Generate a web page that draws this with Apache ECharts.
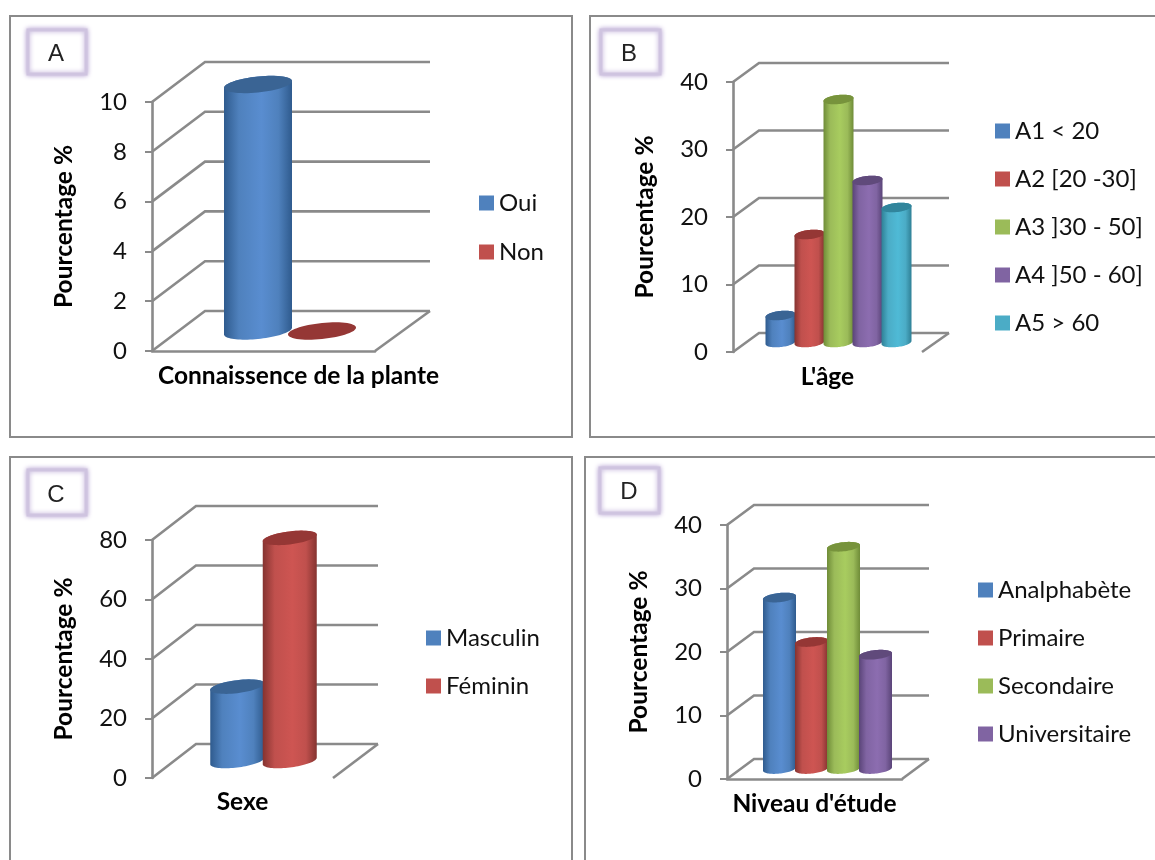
<!DOCTYPE html>
<html>
<head>
<meta charset="utf-8">
<style>html,body{margin:0;padding:0;background:#fff}#c{width:1155px;height:860px}</style>
<script src="https://cdn.jsdelivr.net/npm/echarts@6/dist/echarts.min.js"></script>
</head>
<body>
<div id="c"></div>
<script>
// ---- data ----
var categoryA = ['Connaissence de la plante'];
var namesA = ['Oui', 'Non'];
var valuesA = [9.9, 0];
var ticksA = [0, 2, 4, 6, 8, 10];

var categoryB = ["L'âge"];
var namesB = ['A1 < 20', 'A2 [20 -30]', 'A3 ]30 - 50]', 'A4 ]50 - 60]', 'A5 > 60'];
var valuesB = [4, 16, 36, 24, 20];
var ticksB = [0, 10, 20, 30, 40];

var categoryC = ['Sexe'];
var namesC = ['Masculin', 'Féminin'];
var valuesC = [25, 75];
var ticksC = [0, 20, 40, 60, 80];

var categoryD = ["Niveau d'étude"];
var namesD = ['Analphabète', 'Primaire', 'Secondaire', 'Universitaire'];
var valuesD = [27, 20, 35, 18];
var ticksD = [0, 10, 20, 30, 40];

var yTitle = 'Pourcentage %';

// ---- styles ----
var FONT = 'Lato';
var GRAY = '#8a8a8a';
var palette = [
  {base:'#4F81BD', top:'#3A6494', edge:'#2F5B8E', mid:'#598DD0'},
  {base:'#C0504D', top:'#953735', edge:'#853330', mid:'#CE5552'},
  {base:'#9BBB59', top:'#77933C', edge:'#6F8C38', mid:'#A8CC5F'},
  {base:'#8064A2', top:'#604A7B', edge:'#5A4478', mid:'#8C6DB0'},
  {base:'#4BACC6', top:'#31859C', edge:'#2F8096', mid:'#4FBAD6'}
];

var panels = [
  {cat:categoryA, names:namesA, values:valuesA, ticks:ticksA, letter:'A',
   x:152, y0:351, yTop:102, xR:375, dx:53, dy:40, wallR:430, front:true,
   barW:68, step:64, cx:290, ry:8, tilt:0.1, labelShift:35, labelMargin:13,
   legX:479, legY:190, legGap:49,
   frame:[10,16,562,421], box:[28,30,58,44], lt:[56,54]},
  {cat:categoryB, names:namesB, values:valuesB, ticks:ticksB, letter:'B',
   x:733, y0:352, yTop:82, xR:922, dx:26, dy:19, wallR:949, front:false,
   barW:30, step:29, cx:838.5, ry:4.6, tilt:0.1, labelShift:0, labelMargin:13,
   legX:995, legY:118, legGap:48,
   frame:[590,16,600,421], box:[601,30,59,44], lt:[629,54]},
  {cat:categoryC, names:namesC, values:valuesC, ticks:ticksC, letter:'C',
   x:152, y0:778, yTop:540, xR:333, dx:44, dy:34, wallR:378, front:false,
   barW:54, step:52.5, cx:263.5, ry:6.5, tilt:0.12, labelShift:0, labelMargin:12,
   legX:426, legY:625, legGap:48,
   frame:[10,457,562,440], box:[28,470,58,45], lt:[56,495]},
  {cat:categoryD, names:namesD, values:valuesD, ticks:ticksD, letter:'D',
   x:727, y0:779, yTop:525, xR:902, dx:27, dy:20, wallR:929, front:true,
   barW:33, step:32, cx:827.5, ry:4.6, tilt:0.1, labelShift:0, labelMargin:13,
   legX:978, legY:577, legGap:48,
   frame:[585,457,600,440], box:[600,468,59,45], lt:[629,492]}
];

function cylinderItem(p, idx) {
  var offset = (idx - (p.values.length - 1) / 2) * p.step;
  var col = palette[idx];
  return function (params, api) {
    var base = api.coord([0, 0]);
    var top = api.coord([0, api.value(1)]);
    var cx = p.cx + offset;
    var rx = p.barW / 2;
    var yb = base[1] - p.dy / 2;
    var yt = top[1] - p.dy / 2;
    var sh = p.tilt * rx;
    var rim = function (yc, from, to, n) {
      var pts = [];
      for (var i = 0; i <= n; i++) {
        var t = from + (to - from) * i / n;
        pts.push([cx + rx * Math.cos(t), yc + p.ry * Math.sin(t) - sh * Math.cos(t)]);
      }
      return pts;
    };
    var body = rim(yb, 0, Math.PI, 40).concat(rim(yt, Math.PI, 2 * Math.PI, 40));
    var children = [];
    if (api.value(1) > 0) {
      children.push({
        type: 'polygon', shape: {points: body},
        style: {fill: new echarts.graphic.LinearGradient(0, 0, 1, 0, [
          {offset: 0, color: col.edge},
          {offset: 0.22, color: col.base},
          {offset: 0.55, color: col.mid},
          {offset: 0.8, color: col.base},
          {offset: 1, color: col.edge}
        ])}
      });
    }
    children.push({
      type: 'polygon', shape: {points: rim(yt, 0, 2 * Math.PI, 60)},
      style: {fill: col.top}
    });
    return {type: 'group', children: children};
  };
}

function wallItem(p) {
  return function (params, api) {
    var pt = api.coord([0, api.value(1)]);
    var left = params.coordSys.x;
    return {
      type: 'polyline',
      shape: {points: [[left, pt[1]], [left + p.dx, pt[1] - p.dy], [p.wallR, pt[1] - p.dy]]},
      style: {fill: 'none', stroke: GRAY, lineWidth: 2.6}
    };
  };
}

function floorItem(p) {
  return function (params, api) {
    var pt = api.coord([0, 0]);
    return {
      type: 'line',
      shape: {x1: p.xR, y1: pt[1], x2: p.wallR, y2: pt[1] - p.dy},
      style: {stroke: GRAY, lineWidth: 2.6}
    };
  };
}

var grids = [], xAxes = [], yAxes = [], series = [], legends = [], graphics = [];

panels.forEach(function (p, k) {
  grids.push({left: p.x, top: p.yTop, width: p.xR - p.x, height: p.y0 - p.yTop});
  xAxes.push({
    type: 'category', gridIndex: k, data: p.cat, boundaryGap: true,
    axisTick: {show: false},
    axisLine: {show: p.front, lineStyle: {color: GRAY, width: 2.6}},
    axisLabel: {
      interval: 0, margin: p.labelMargin, color: '#000', fontFamily: FONT,
      fontWeight: 'bold', fontSize: 24.5,
      padding: [0, 0, 0, p.labelShift * 2]
    },
    splitLine: {show: false}
  });
  yAxes.push({
    type: 'value', gridIndex: k, min: 0, max: p.ticks[p.ticks.length - 1],
    interval: p.ticks[1] - p.ticks[0],
    name: yTitle, nameLocation: 'middle', nameRotate: 90, nameGap: 75,
    nameTextStyle: {color: '#000', fontFamily: FONT, fontWeight: 'bold', fontSize: 24.5},
    axisLine: {show: true, lineStyle: {color: GRAY, width: 2.6}},
    axisTick: {show: true, length: 7, lineStyle: {color: GRAY, width: 2}},
    axisLabel: {margin: 25, color: '#111', fontFamily: FONT, fontSize: 24, padding: [8, 0, 0, 0]},
    splitLine: {show: false}
  });
  series.push({
    type: 'custom', xAxisIndex: k, yAxisIndex: k, silent: true, clip: false, z: 1,
    data: p.ticks.map(function (v) { return [0, v]; }),
    renderItem: wallItem(p)
  });
  series.push({
    type: 'custom', xAxisIndex: k, yAxisIndex: k, silent: true, clip: false, z: 1,
    data: [[0, 0]],
    renderItem: floorItem(p)
  });
  p.values.forEach(function (v, i) {
    series.push({
      type: 'custom', name: p.names[i], xAxisIndex: k, yAxisIndex: k,
      silent: true, clip: false, z: 3 + i,
      itemStyle: {color: palette[i].base},
      data: [[0, v]],
      renderItem: cylinderItem(p, i)
    });
  });
  legends.push({
    orient: 'vertical', left: p.legX, top: p.legY, data: p.names, padding: 0,
    icon: 'rect', itemWidth: 15, itemHeight: 15, itemGap: p.legGap - 26,
    selectedMode: false,
    textStyle: {color: '#111', fontFamily: FONT, fontSize: 24, lineHeight: 26}
  });
  graphics.push({
    type: 'rect', silent: true, z: -1,
    shape: {x: p.frame[0], y: p.frame[1], width: p.frame[2], height: p.frame[3]},
    style: {fill: 'none', stroke: GRAY, lineWidth: 2}
  });
  graphics.push({
    type: 'rect', silent: true, z: 0,
    shape: {x: p.box[0], y: p.box[1], width: p.box[2], height: p.box[3]},
    style: {fill: '#fff', stroke: '#cfc4e0', lineWidth: 3, shadowBlur: 5, shadowColor: '#b8a6d4'}
  });
  graphics.push({
    type: 'text', silent: true, z: 1, x: p.lt[0], y: p.lt[1],
    style: {text: p.letter, fill: '#222', font: '24px "Liberation Sans"', textAlign: 'center', textVerticalAlign: 'middle'}
  });
});

var chart = echarts.init(document.getElementById('c'), null, {renderer: 'canvas'});
chart.setOption({
  animation: false,
  backgroundColor: '#fff',
  textStyle: {fontFamily: FONT},
  grid: grids, xAxis: xAxes, yAxis: yAxes, legend: legends, series: series,
  graphic: graphics
});
</script>
</body>
</html>
